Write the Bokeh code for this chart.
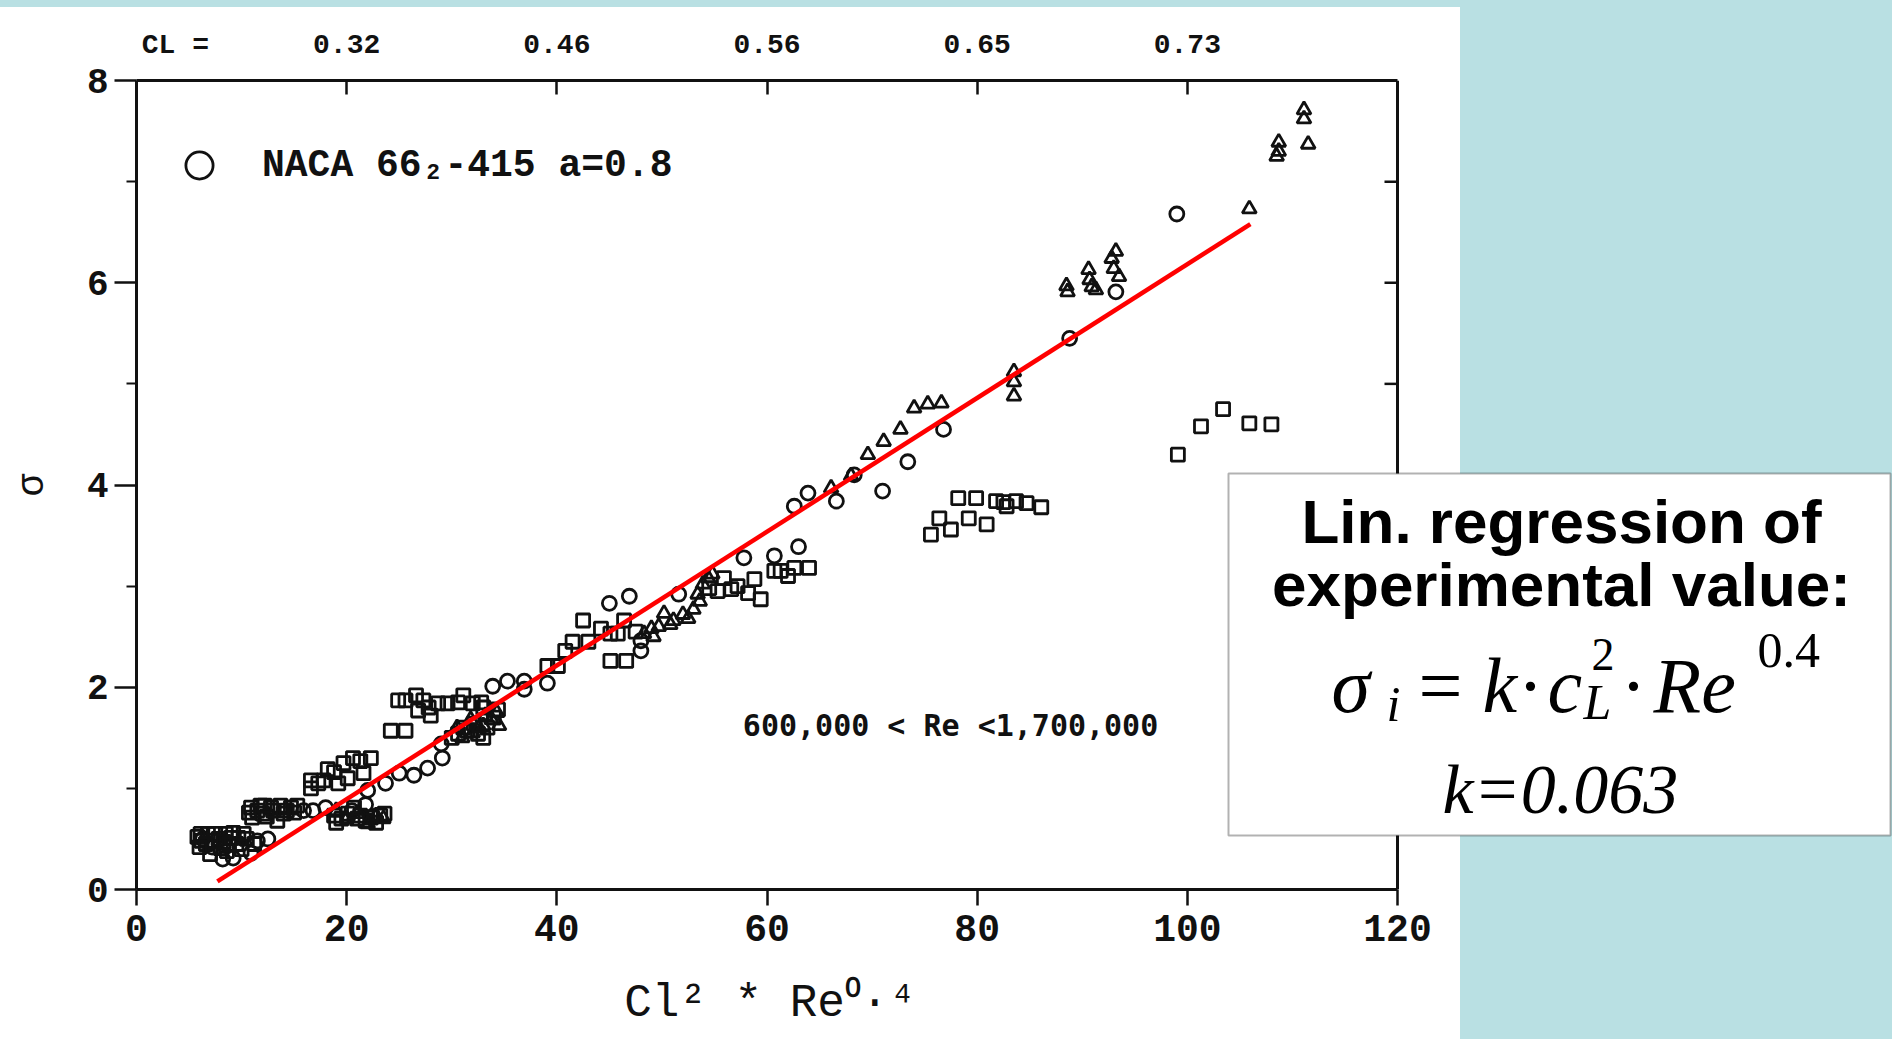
from bokeh.plotting import figure
from bokeh.models import (Range1d, LinearAxis, FixedTicker, Label, BoxAnnotation,
                          Legend, LegendItem, Span)
from bokeh.embed import file_html
from bokeh.resources import INLINE

# ---------------- data ----------------
circle_x = [6.3, 7.2, 8.2, 9.2, 10.9, 11.5, 12.5, 15.9, 16.8, 18.0, 20.5, 21.8, 22.5,
            22.0, 23.7, 25.0, 26.4, 27.7, 29.1, 29.0, 33.9, 35.3, 36.9, 36.9, 39.1,
            48.0, 48.0, 45.0, 46.9, 51.6, 57.8, 60.7, 63.0, 62.6, 63.9, 66.6, 68.3,
            71.0, 73.4, 76.8, 88.8, 93.2, 99.0]
circle_y = [0.50, 0.42, 0.30, 0.31, 0.36, 0.48, 0.50, 0.78, 0.78, 0.81, 0.78, 0.84, 0.72,
            0.98, 1.05, 1.15, 1.13, 1.20, 1.30, 1.44, 2.01, 2.06, 2.06, 1.98, 2.04,
            2.36, 2.46, 2.83, 2.90, 2.92, 3.28, 3.30, 3.39, 3.79, 3.92, 3.84, 4.10,
            3.94, 4.23, 4.55, 5.45, 5.91, 6.68]

square_x = [6.1, 6.8, 7.3, 8.0, 9.0, 9.2, 9.7, 6.2, 7.5, 8.5, 10.0, 8.6, 11.2,
            5.8, 6.6, 7.8, 8.3, 9.5, 10.5, 7.0, 8.8, 6.0, 10.2,
            10.9, 11.8, 12.8, 13.7, 14.7, 15.3, 11.0, 12.0, 13.4, 14.0, 12.4,
            11.5, 13.0, 14.3, 15.0, 12.2, 10.7,
            18.8, 20.1, 21.3, 22.3, 23.2, 20.7, 19.5, 21.8, 19.0, 21.0, 22.8, 23.6,
            16.6, 16.6, 18.2, 18.8, 19.7, 20.6, 21.3, 22.3, 17.8, 20.1, 21.6, 17.3, 19.2,
            24.2, 25.6,
            24.9, 25.6, 26.6, 27.3, 26.8, 28.0, 28.7, 29.6, 30.6, 31.1, 32.0, 32.8, 33.0, 27.8,
            30.6, 31.5, 32.5, 33.4, 34.0, 31.1, 32.1, 30.0, 33.0, 34.4,
            39.1, 40.1, 40.8, 41.5, 42.5, 44.2, 45.1, 46.4, 45.8, 43.0, 45.1, 46.6, 47.5,
            55.9, 56.6, 58.2, 58.8, 59.4, 55.3, 54.5, 57.2, 60.7, 61.3, 62.6, 64.0, 62.0,
            75.6, 76.4, 77.5, 78.2, 79.9, 79.2, 80.9, 81.8, 82.8, 83.7, 84.7, 86.1, 82.5,
            99.1, 101.3, 103.4, 105.9, 108.0]
square_y = [0.55, 0.55, 0.48, 0.41, 0.51, 0.56, 0.51, 0.48, 0.55, 0.55, 0.40, 0.38, 0.45,
            0.52, 0.45, 0.50, 0.47, 0.45, 0.50, 0.35, 0.45, 0.42, 0.55,
            0.81, 0.83, 0.81, 0.83, 0.81, 0.83, 0.71, 0.75, 0.68, 0.75, 0.72,
            0.78, 0.78, 0.78, 0.76, 0.83, 0.76,
            0.73, 0.75, 0.73, 0.71, 0.73, 0.81, 0.70, 0.68, 0.66, 0.70, 0.66, 0.75,
            1.08, 1.00, 1.19, 1.16, 1.25, 1.30, 1.27, 1.30, 1.08, 1.10, 1.15, 1.05, 1.05,
            1.57, 1.57,
            1.87, 1.87, 1.92, 1.87, 1.77, 1.72, 1.84, 1.84, 1.85, 1.92, 1.84, 1.85, 1.80, 1.80,
            1.54, 1.57, 1.54, 1.60, 1.70, 1.60, 1.64, 1.50, 1.50, 1.78,
            2.21, 2.21, 2.36, 2.45, 2.66, 2.58, 2.53, 2.66, 2.53, 2.45, 2.26, 2.26, 2.55,
            3.08, 2.97, 2.93, 3.07, 2.87, 2.95, 2.98, 3.00, 3.15, 3.15, 3.18, 3.18, 3.10,
            3.51, 3.67, 3.56, 3.87, 3.87, 3.67, 3.61, 3.84, 3.79, 3.84, 3.82, 3.78, 3.83,
            4.30, 4.58, 4.75, 4.61, 4.60]

triangle_x = [19.0, 21.0, 22.8, 20.0, 22.0, 23.5,
              30.5, 32.0, 33.0, 33.8, 34.3, 31.0, 32.6, 33.2, 34.5, 31.8,
              48.3, 49.0, 49.7, 50.2, 51.1, 52.0, 53.0, 53.4, 53.9, 54.4,
              50.8, 52.5, 53.6, 54.8, 49.2,
              66.1, 68.0, 69.6, 71.1, 72.7, 74.0, 75.3, 76.6,
              83.5, 83.5, 83.5,
              88.5, 88.6, 90.6, 90.7, 91.3, 90.9, 93.2, 92.8, 93.0, 93.5,
              105.9,
              108.7, 108.7, 108.5, 111.1, 111.1, 111.5]
triangle_y = [0.78, 0.75, 0.73, 0.70, 0.65, 0.70,
              1.60, 1.55, 1.62, 1.68, 1.75, 1.50, 1.60, 1.72, 1.62, 1.68,
              2.53, 2.58, 2.60, 2.73, 2.66, 2.72, 2.77, 2.92, 3.02, 3.08,
              2.62, 2.68, 2.85, 3.12, 2.50,
              3.97, 4.09, 4.30, 4.43, 4.55, 4.76, 4.80, 4.81,
              5.12, 5.02, 4.88,
              5.97, 5.91, 6.13, 6.03, 5.93, 5.96, 6.31, 6.24, 6.14, 6.06,
              6.73,
              7.39, 7.30, 7.25, 7.71, 7.62, 7.37]

fit_x = [7.7, 106.0]
fit_y = [0.08, 6.58]

x_ticks = [0, 20, 40, 60, 80, 100, 120]
y_ticks = [0, 2, 4, 6, 8]
y_minor_ticks = [1, 3, 5, 7]
right_ticks = [1, 2, 3, 4, 5, 6, 7]
cl_positions = [20, 40, 60, 80, 100]
cl_labels = ["0.32", "0.46", "0.56", "0.65", "0.73"]
cl_title_position = 3.7
cl_title = "CL ="

legend_label = "NACA 66\u2082-415 a=0.8"
re_range_text = "600,000 < Re <1,700,000"
x_title = "Cl\u00b2 * Re\u2070\u00b7\u2074"
x_title_position = 60.3
y_title = "\u03c3"

# ---------------- layout constants ----------------
W, H = 1892, 1039
FRAME_LEFT, AXIS_RIGHT, FRAME_TOP, FRAME_BOTTOM = 136, 1397, 80, 889
X_MAX = 120
PX_PER_X = (AXIS_RIGHT - FRAME_LEFT) / X_MAX
X_END = (W - FRAME_LEFT) / PX_PER_X
BLUE = "#B9E0E3"
INK = "#111111"
MONO = "Liberation Mono"
SERIF = "Liberation Serif"
SANS = "Liberation Sans"

page_bg = ("linear-gradient(to bottom, {b} 0px, {b} 7px, rgba(255,255,255,0) 7px), "
           "linear-gradient(to right, #ffffff 0px, #ffffff 1460px, {b} 1460px)").format(b=BLUE)

p = figure(width=W, height=H, output_backend="svg", toolbar_location=None,
           x_range=Range1d(0, X_END), y_range=Range1d(0, 8),
           min_border_left=FRAME_LEFT, min_border_right=0,
           min_border_top=FRAME_TOP, min_border_bottom=H - FRAME_BOTTOM,
           background_fill_color=None, border_fill_color=None,
           outline_line_color=None, styles={"background": page_bg})
p.grid.visible = False

# ---- axes ----
xa = p.xaxis[0]
xa.bounds = (0, X_MAX)
xa.ticker = FixedTicker(ticks=x_ticks)
xa.major_tick_out = 16
xa.major_tick_in = 0
xa.minor_tick_out = 0
xa.minor_tick_in = 0
xa.axis_line_width = 3
xa.axis_line_color = INK
xa.major_tick_line_width = 2.5
xa.major_tick_line_color = INK
xa.major_label_standoff = 9
xa.major_label_text_font = MONO
xa.major_label_text_font_size = "38px"
xa.major_label_text_font_style = "bold"
xa.major_label_text_color = INK

# x-axis title, centred under the 0..120 span
x_title_axis = LinearAxis(ticker=FixedTicker(ticks=[x_title_position]), bounds=(0, X_MAX),
                          major_label_overrides={x_title_position: x_title})
x_title_axis.axis_line_color = None
x_title_axis.major_tick_line_color = None
x_title_axis.minor_tick_line_color = None
x_title_axis.major_tick_in = 0
x_title_axis.major_tick_out = 0
x_title_axis.minor_tick_in = 0
x_title_axis.minor_tick_out = 0
x_title_axis.major_label_standoff = 34
x_title_axis.major_label_text_font = MONO
x_title_axis.major_label_text_font_size = "46px"
x_title_axis.major_label_text_color = INK
p.add_layout(x_title_axis, "below")

ya = p.yaxis[0]
ya.ticker = FixedTicker(ticks=y_ticks, minor_ticks=y_minor_ticks)
ya.major_tick_out = 22
ya.major_tick_in = 0
ya.minor_tick_out = 10
ya.minor_tick_in = 0
ya.axis_line_width = 3
ya.axis_line_color = INK
ya.major_tick_line_width = 2.5
ya.major_tick_line_color = INK
ya.minor_tick_line_width = 2
ya.minor_tick_line_color = INK
ya.major_label_standoff = 6
ya.major_label_text_font = MONO
ya.major_label_text_font_size = "36px"
ya.major_label_text_font_style = "bold"
ya.major_label_text_color = INK
ya.axis_label = y_title
ya.axis_label_text_font = MONO
ya.axis_label_text_font_size = "38px"
ya.axis_label_text_font_style = "normal"
ya.axis_label_text_color = INK
ya.axis_label_standoff = 30

# top axis: line + inward ticks (its labels are carried by the axis above it)
top_ticks = LinearAxis(ticker=FixedTicker(ticks=cl_positions), bounds=(0, X_MAX),
                       major_label_overrides={pos: "" for pos in cl_positions})
top_ticks.major_tick_in = 14
top_ticks.major_tick_out = 0
top_ticks.minor_tick_in = 0
top_ticks.minor_tick_out = 0
top_ticks.axis_line_width = 3
top_ticks.axis_line_color = INK
top_ticks.major_tick_line_width = 2.5
top_ticks.major_tick_line_color = INK
top_ticks.major_label_standoff = 0
p.add_layout(top_ticks, "above")

# top axis labels: lift coefficient values
top_ticks_lab = [cl_title_position] + cl_positions
top_labels = LinearAxis(ticker=FixedTicker(ticks=top_ticks_lab), bounds=(0, X_MAX),
                        major_label_overrides={pos: lab for pos, lab in
                                               zip(top_ticks_lab, [cl_title] + cl_labels)})
top_labels.axis_line_color = None
top_labels.major_tick_line_color = None
top_labels.minor_tick_line_color = None
top_labels.major_tick_in = 0
top_labels.major_tick_out = 0
top_labels.minor_tick_in = 0
top_labels.minor_tick_out = 0
top_labels.major_label_standoff = 20
top_labels.major_label_text_font = MONO
top_labels.major_label_text_font_size = "28px"
top_labels.major_label_text_font_style = "bold"
top_labels.major_label_text_color = INK
p.add_layout(top_labels, "above")

# right frame line at x = 120 with inward ticks
p.add_layout(Span(location=X_MAX, dimension="height", line_color=INK, line_width=3))
tick_len = 13 / PX_PER_X
p.segment(x0=[X_MAX - tick_len] * len(right_ticks), y0=right_ticks,
          x1=[X_MAX] * len(right_ticks), y1=right_ticks, line_color=INK, line_width=2.5)

# ---- data ----
r_circ = p.scatter(circle_x, circle_y, marker="circle", size=14, fill_color=None,
                   line_color=INK, line_width=2.8)
p.scatter(square_x, square_y, marker="square", size=13, fill_color=None,
          line_color=INK, line_width=2.8)
p.scatter(triangle_x, triangle_y, marker="triangle", size=14, fill_color=None,
          line_color=INK, line_width=2.8)
p.line(fit_x, fit_y, line_color="#FF0000", line_width=4.5)

# ---- legend ----
legend = Legend(items=[LegendItem(label=legend_label, renderers=[r_circ])],
                location=(29, 690), margin=0, padding=0,
                glyph_width=68, glyph_height=68, label_height=68, label_standoff=29,
                border_line_color=None, background_fill_alpha=0,
                label_text_font=MONO, label_text_font_size="38px",
                label_text_font_style="bold", label_text_color=INK)
p.add_layout(legend)

# ---- range note ----
p.add_layout(Label(x=57.7, y=1.62, text=re_range_text, text_baseline="middle",
                   text_font="DejaVu Sans Mono", text_font_size="30px",
                   text_font_style="bold", text_color=INK))

# ---- regression text box (canvas pixels, y downward) ----
p.add_layout(BoxAnnotation(left=1228, right=1890, top=473, bottom=835,
                           left_units="canvas", right_units="canvas",
                           top_units="canvas", bottom_units="canvas",
                           fill_color="white", fill_alpha=1.0,
                           line_color="black", line_width=2, level="overlay"))

BASELINE_SHIFT = 0.31  # measured offset of the "alphabetic" anchor, in em


def box_text(x, y, text, font, size, style="normal", align="left", baseline="alphabetic"):
    yy = y - BASELINE_SHIFT * size if baseline == "alphabetic" else y
    p.add_layout(Label(x=x, y=yy, x_units="canvas", y_units="canvas", text=text,
                       text_font=font, text_font_size=f"{size}px", text_font_style=style,
                       text_align=align, text_baseline=baseline, text_color="black",
                       level="overlay"))


box_text(1561, 521, "Lin. regression of", SANS, 62, "bold", "center", "middle")
box_text(1561, 584, "experimental value:", SANS, 62, "bold", "center", "middle")
box_text(1331, 709, "\u03c3", SERIF, 78, "italic")
box_text(1386, 719, "i", SERIF, 50, "italic")
box_text(1418, 709, "=", SERIF, 78)
box_text(1482, 709, "k", SERIF, 78, "italic")
box_text(1517, 709, "\u00b7", SERIF, 78)
box_text(1547, 709, "c", SERIF, 78, "italic")
box_text(1591, 668, "2", SERIF, 46)
box_text(1583, 717, "L", SERIF, 50, "italic")
box_text(1620, 709, "\u00b7", SERIF, 78)
box_text(1653, 709, "Re", SERIF, 78, "italic")
box_text(1757, 665, "0.4", SERIF, 50)
box_text(1442, 811, "k=0.063", SERIF, 70, "italic")

open("out.html", "w").write(file_html(p, INLINE))
